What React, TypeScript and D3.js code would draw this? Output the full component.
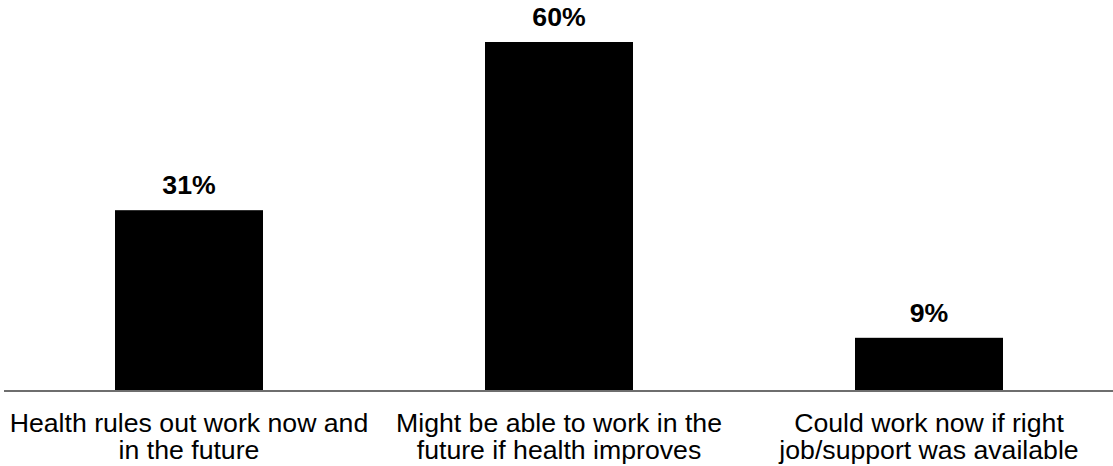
import React from "react";
import * as d3 from "d3";

const categories = [
  ["Health rules out work now and", "in the future"],
  ["Might be able to work in the", "future if health improves"],
  ["Could work now if right", "job/support was available"],
];
const values = [31, 60, 9];
const valueLabels = ["31%", "60%", "9%"];

const W = 1113;
const H = 466;
const FONT = "'Liberation Sans', Arial, Helvetica, sans-serif";

export default function App() {
  const ids = categories.map((_, i) => String(i));
  const x = d3.scaleBand<string>().domain(ids).range([4, 1114]).paddingInner(0.6).paddingOuter(0.3);
  const y = d3.scaleLinear().domain([0, 60]).range([390, 42]);
  const fs = 26.67;
  return (
    <svg width={W} height={H} style={{ position: "absolute", left: 0, top: 0, background: "#fff" }} fontFamily={FONT}>
      {values.map((v, i) => {
        const bx = x(String(i))!;
        const bw = x.bandwidth();
        const cx = bx + bw / 2;
        return (
          <g key={i}>
            <rect x={bx} y={y(v)} width={bw} height={y(0) - y(v)} fill="#000" />
            <text x={cx} y={y(v) - 16} textAnchor="middle" fontSize={fs} fontWeight="bold" fill="#000">
              {valueLabels[i]}
            </text>
            <text x={cx} y={431.5} textAnchor="middle" fontSize={fs} fill="#000">
              {categories[i].map((line, j) => (
                <tspan key={j} x={cx} dy={j === 0 ? 0 : 27}>
                  {line}
                </tspan>
              ))}
            </text>
          </g>
        );
      })}
      <line x1={4} x2={1113} y1={391} y2={391} stroke="#6e6e6e" strokeWidth={2} />
    </svg>
  );
}
